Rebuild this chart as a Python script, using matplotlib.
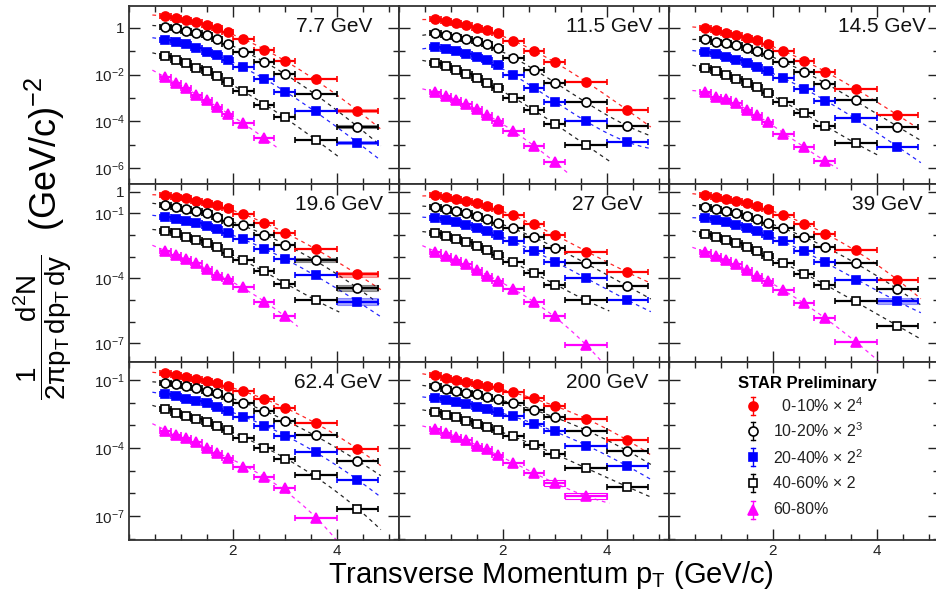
import numpy as np
import matplotlib
matplotlib.use('Agg')
import matplotlib.pyplot as plt
from matplotlib.patches import Rectangle
from matplotlib.ticker import FixedLocator, MultipleLocator, FixedFormatter, NullFormatter

plt.rcParams['font.family'] = ['Liberation Sans', 'DejaVu Sans']
plt.rcParams['mathtext.fontset'] = 'custom'
plt.rcParams['mathtext.rm'] = 'Liberation Sans'
plt.rcParams['mathtext.it'] = 'Liberation Sans:italic'
plt.rcParams['mathtext.bf'] = 'Liberation Sans:bold'
plt.rcParams['mathtext.default'] = 'regular'

# ---------------- data ----------------
pt_lo = [0.6, 0.8, 1.0, 1.2, 1.4, 1.6, 1.8, 2.0, 2.4, 2.8, 3.2, 4.0]
pt_hi = [0.8, 1.0, 1.2, 1.4, 1.6, 1.8, 2.0, 2.4, 2.8, 3.2, 4.0, 4.8]
pt_center = [0.7, 0.9, 1.1, 1.3, 1.5, 1.7, 1.9, 2.2, 2.6, 3.0, 3.6, 4.4]

energy_labels = ['7.7 GeV', '11.5 GeV', '14.5 GeV', '19.6 GeV', '27 GeV', '39 GeV',
                 '62.4 GeV', '200 GeV']
centrality_labels = ['  0-10% × 2$^{4}$', '10-20% × 2$^{3}$', '20-40% × 2$^{2}$',
                     '40-60% × 2', '60-80%']

# order in each: 0-10%x16, 10-20%x8, 20-40%x4, 40-60%x2, 60-80%
spec_7p7 = [
    [3.3, 2.6, 2.2, 1.76, 1.35, 1.03, 0.65, 0.33, 0.114, 0.038, 6.3e-3, 2.8e-4],
    [1.14, 0.97, 0.77, 0.63, 0.50, 0.33, 0.20, 0.096, 0.036, 0.0106, 1.43e-3, 5.8e-5],
    [0.31, 0.26, 0.20, 0.143, 0.096, 0.069, 0.042, 0.022, 6.5e-3, 1.74e-3, 2.7e-4, 1.2e-5],
    [0.063, 0.044, 0.030, 0.020, 0.0136, 8.3e-3, 4.6e-3, 1.9e-3, 5.0e-4, 1.55e-4, 1.55e-5],
    [7.7e-3, 4.5e-3, 2.6e-3, 1.33e-3, 8.1e-4, 4.2e-4, 2.0e-4, 8.7e-5, 1.9e-5],
]
spec_11p5 = [
    [2.4, 2.0, 1.64, 1.35, 1.05, 0.82, 0.61, 0.277, 0.103, 0.035, 4.8e-3, 3.0e-4],
    [0.61, 0.50, 0.41, 0.34, 0.277, 0.206, 0.139, 0.052, 0.0157, 4.4e-3, 6.7e-4, 6.2e-5],
    [0.153, 0.126, 0.103, 0.077, 0.057, 0.042, 0.0258, 9.6e-3, 2.66e-3, 6.7e-4, 1.02e-4, 1.28e-5],
    [0.0315, 0.0234, 0.0157, 0.0106, 7.1e-3, 4.35e-3, 2.66e-3, 9.9e-4, 3.0e-4, 7.6e-5, 9.5e-6],
    [1.8e-3, 1.2e-3, 8.1e-4, 5.5e-4, 3.3e-4, 1.85e-4, 1.02e-4, 3.8e-5, 8.6e-6, 1.77e-6],
]
spec_14p5 = [
    [1.05, 0.82, 0.64, 0.50, 0.39, 0.30, 0.21, 0.106, 0.040, 0.0133, 2.4e-3, 1.86e-4],
    [0.33, 0.26, 0.22, 0.186, 0.143, 0.106, 0.077, 0.034, 0.0133, 3.95e-3, 8.1e-4, 5.8e-5],
    [0.091, 0.074, 0.055, 0.042, 0.031, 0.022, 0.0147, 6.9e-3, 2.4e-3, 7.6e-4, 1.33e-4, 8.0e-6],
    [0.0198, 0.0143, 9.6e-3, 6.5e-3, 4.2e-3, 2.85e-3, 1.67e-3, 6.9e-4, 2.2e-4, 6.2e-5, 1.13e-5],
    [1.85e-3, 1.13e-3, 9.0e-4, 5.9e-4, 3.0e-4, 1.85e-4, 9.5e-5, 2.9e-5, 8.0e-6, 2.0e-6],
]
spec_19p6 = [
    [0.70, 0.59, 0.50, 0.385, 0.31, 0.243, 0.171, 0.094, 0.037, 0.0128, 2.2e-3, 1.54e-4],
    [0.243, 0.203, 0.154, 0.128, 0.101, 0.070, 0.046, 0.029, 0.0100, 3.5e-3, 7.0e-4, 3.5e-5],
    [0.070, 0.053, 0.046, 0.035, 0.026, 0.0184, 0.0120, 6.4e-3, 2.2e-3, 7.6e-4, 1.43e-4, 8.4e-6],
    [0.0158, 0.0120, 8.4e-3, 5.9e-3, 4.2e-3, 2.9e-3, 1.43e-3, 7.0e-4, 2.2e-4, 5.5e-5, 1.0e-5],
    [1.9e-3, 1.2e-3, 7.6e-4, 5.0e-4, 2.6e-4, 1.43e-4, 9.1e-5, 3.9e-5, 8.4e-6, 1.84e-6],
]
spec_27 = [
    [0.70, 0.57, 0.46, 0.37, 0.30, 0.219, 0.159, 0.084, 0.032, 0.0100, 1.65e-3, 1.97e-4],
    [0.197, 0.159, 0.129, 0.104, 0.076, 0.055, 0.036, 0.0211, 8.1e-3, 2.5e-3, 5.1e-4, 4.4e-5],
    [0.061, 0.049, 0.040, 0.029, 0.0211, 0.0153, 0.0100, 5.3e-3, 1.83e-3, 5.7e-4, 1.04e-4, 1.0e-5],
    [0.0124, 9.0e-3, 6.6e-3, 4.8e-3, 3.1e-3, 2.04e-3, 1.2e-3, 5.7e-4, 1.77e-4, 5.0e-5, 1.0e-5],
    [1.65e-3, 1.08e-3, 7.0e-4, 4.6e-4, 2.4e-4, 1.29e-4, 7.6e-5, 3.2e-5, 8.1e-6, 1.84e-6, 8.4e-8],
]
spec_39 = [
    [0.70, 0.57, 0.46, 0.37, 0.30, 0.219, 0.159, 0.084, 0.032, 0.0112, 2.04e-3, 8.4e-5],
    [0.197, 0.159, 0.129, 0.104, 0.076, 0.055, 0.036, 0.0211, 8.1e-3, 2.8e-3, 5.1e-4, 3.2e-5],
    [0.061, 0.049, 0.040, 0.029, 0.0211, 0.0153, 0.0100, 5.3e-3, 1.83e-3, 5.7e-4, 8.4e-5, 9.0e-6],
    [0.0112, 8.1e-3, 5.9e-3, 4.3e-3, 2.8e-3, 1.83e-3, 1.08e-3, 5.1e-4, 1.6e-4, 5.0e-5, 9.0e-6, 6.3e-7],
    [1.65e-3, 1.08e-3, 7.0e-4, 4.6e-4, 2.4e-4, 1.29e-4, 7.6e-5, 2.9e-5, 7.3e-6, 1.49e-6, 1.16e-7],
]
spec_62p4 = [
    [0.197, 0.166, 0.131, 0.107, 0.090, 0.076, 0.054, 0.033, 0.0140, 5.6e-3, 1.3e-3, 9.0e-5],
    [0.071, 0.064, 0.054, 0.043, 0.034, 0.0258, 0.0172, 0.0100, 4.3e-3, 1.6e-3, 3.7e-4, 2.7e-5],
    [0.0233, 0.0196, 0.0140, 0.0118, 9.4e-3, 6.6e-3, 4.4e-3, 2.4e-3, 9.6e-4, 3.5e-4, 6.9e-5, 3.9e-6],
    [5.1e-3, 3.6e-3, 2.6e-3, 1.9e-3, 1.36e-3, 9.6e-4, 6.2e-4, 2.8e-4, 9.7e-5, 3.2e-5, 6.5e-6, 2.0e-7],
    [5.8e-4, 3.7e-4, 2.7e-4, 1.9e-4, 9.7e-5, 5.8e-5, 3.7e-5, 1.5e-5, 5.1e-6, 1.66e-6, 7.9e-8],
]
spec_200 = [
    [0.166, 0.125, 0.098, 0.080, 0.066, 0.056, 0.047, 0.0286, 0.0155, 7.1e-3, 1.84e-3, 2.25e-4],
    [0.054, 0.039, 0.0326, 0.0274, 0.0233, 0.0183, 0.0145, 0.0100, 4.7e-3, 2.25e-3, 5.8e-4, 7.6e-5],
    [0.0155, 0.0131, 0.0104, 8.5e-3, 6.6e-3, 5.2e-3, 4.0e-3, 2.6e-3, 1.14e-3, 5.6e-4, 1.26e-4, 1.6e-5],
    [4.0e-3, 2.85e-3, 2.25e-3, 1.6e-3, 1.14e-3, 8.7e-4, 6.2e-4, 3.4e-4, 1.35e-4, 5.4e-5, 1.27e-5, 1.96e-6],
    [6.7e-4, 4.7e-4, 3.15e-4, 2.25e-4, 1.22e-4, 8.7e-5, 4.9e-5, 2.24e-5, 7.6e-6, 2.9e-6, 7.6e-7],
]
all_spectra = [spec_7p7, spec_11p5, spec_14p5, spec_19p6, spec_27, spec_39, spec_62p4, spec_200]

# systematic-uncertainty boxes: (panel, series, point, half height in decades, filled)
sys_boxes = [
    (0, 0, 11, 0.07, True), (0, 1, 11, 0.07, True), (0, 2, 11, 0.07, True),
    (3, 0, 11, 0.13, True), (3, 1, 10, 0.11, True), (3, 1, 11, 0.13, True),
    (3, 2, 11, 0.15, True), (5, 2, 11, 0.14, True),
    (7, 4, 9, 0.12, False), (7, 4, 10, 0.15, False),
]

# ---------------- style ----------------
colors = ['#ff0000', '#000000', '#0000ff', '#000000', '#ff00ff']
markers = ['o', 'o', 's', 's', '^']
filled = [True, False, True, False, True]
msizes = [6.5, 6.5, 6.0, 6.0, 7.0]

W, H = 937, 597
col_left = [129, 399, 669]
col_w = 270
row_top = [6, 184, 362]
row_h = 178
row_ylim_exp = [(-6.695, 0.944), (-7.858, 0.355), (-8.06, -0.207)]
row_major = [[0, -2, -4, -6], [0, -1, -4, -7], [-1, -4, -7]]

def exp_label(e):
    return '1' if e == 0 else r'$10^{%d}$' % e

fig = plt.figure(figsize=(W / 100, H / 100), dpi=100)
axes = []
for r in range(3):
    for c in range(3):
        ax = fig.add_axes([col_left[c] / W, 1 - (row_top[r] + row_h) / H, col_w / W, row_h / H])
        ax.set_yscale('log')
        lo, hi = row_ylim_exp[r]
        ax.set_ylim(10 ** lo, 10 ** hi)
        ax.set_xlim(0, 5.2)
        ax.yaxis.set_major_locator(FixedLocator([10.0 ** e for e in row_major[r]]))
        ax.yaxis.set_minor_locator(FixedLocator([10.0 ** e for e in range(-10, 3)]))
        ax.yaxis.set_minor_formatter(NullFormatter())
        if c == 0:
            ax.yaxis.set_major_formatter(FixedFormatter([exp_label(e) for e in row_major[r]]))
        else:
            ax.yaxis.set_major_formatter(NullFormatter())
        ax.xaxis.set_major_locator(FixedLocator([2, 4]))
        ax.xaxis.set_minor_locator(MultipleLocator(0.5))
        if r == 2:
            ax.xaxis.set_major_formatter(FixedFormatter(['2', '4']))
        else:
            ax.xaxis.set_major_formatter(NullFormatter())
        ax.tick_params(which='both', direction='in', top=True, right=True,
                       labelsize=11, colors='#222222', width=1.0)
        ax.tick_params(which='major', length=8, pad=3)
        ax.tick_params(which='minor', length=4)
        for s in ax.spines.values():
            s.set_linewidth(1.3)
            s.set_color('#333333')
        axes.append(ax)

label_x = [0.62, 0.62, 0.625, 0.615, 0.64, 0.678, 0.612, 0.62]

for i, spectra in enumerate(all_spectra):
    ax = axes[i]
    for k, ys in enumerate(spectra):
        n = len(ys)
        x = np.array(pt_center[:n])
        xl = x - np.array(pt_lo[:n])
        xh = np.array(pt_hi[:n]) - x
        y = np.array(ys)
        coef = np.polyfit(x, np.log10(y), 3)
        xf = np.linspace(0.45, pt_hi[n - 1] + 0.05, 200)
        ax.plot(xf, 10 ** np.polyval(coef, xf), ls=(0, (3, 3)), color=colors[k],
                lw=0.9, alpha=0.85, zorder=1)
        ax.errorbar(x, y, xerr=[xl, xh], fmt=markers[k], color=colors[k],
                    mfc=colors[k] if filled[k] else 'white', mec=colors[k],
                    mew=1.2, ms=msizes[k], elinewidth=1.6, capsize=2, capthick=1.2,
                    zorder=3)
    ax.text(label_x[i], 0.852, energy_labels[i], transform=ax.transAxes,
            ha='left', va='baseline', fontsize=15, color='#111111')

for (p, k, j, hh, fl) in sys_boxes:
    yv = all_spectra[p][k][j]
    rect = Rectangle((pt_lo[j], yv * 10 ** (-hh)), pt_hi[j] - pt_lo[j],
                     yv * (10 ** hh - 10 ** (-hh)),
                     facecolor=colors[k] if fl else 'none', alpha=0.35 if fl else 1.0,
                     edgecolor=colors[k], lw=0.8, zorder=2)
    axes[p].add_patch(rect)

# legend panel
lax = axes[8]
lax.text(0.511, 0.882, 'STAR Preliminary', transform=lax.transAxes, ha='center',
         va='center', fontsize=12, fontweight='bold')
leg_y = [0.754, 0.614, 0.465, 0.318, 0.169]
for k in range(5):
    yy = leg_y[k]
    lax.plot([0.311, 0.311], [yy - 0.05, yy + 0.05], color=colors[k], lw=1.0,
             transform=lax.transAxes)
    lax.plot([0.303, 0.319], [yy + 0.05, yy + 0.05], color=colors[k], lw=1.0,
             transform=lax.transAxes)
    lax.plot([0.303, 0.319], [yy - 0.05, yy - 0.05], color=colors[k], lw=1.0,
             transform=lax.transAxes)
    lax.plot([0.311], [yy], marker=markers[k], color=colors[k],
             mfc=colors[k] if filled[k] else 'white', mec=colors[k], mew=1.2,
             ms=msizes[k], transform=lax.transAxes, ls='none')
    lax.text(0.386, yy, centrality_labels[k], transform=lax.transAxes, ha='left',
             va='center', fontsize=11.5, color='#222222')

fig.text(551 / W, 1 - 583 / H, r'Transverse Momentum p$_{T}$ (GeV/c)', ha='center',
         va='baseline', fontsize=21)
fig.text(43 / W, 1 - 327 / H, r'$\dfrac{1\qquad d^{2}N}{2\pi p_{T}\,dp_{T}\,dy}$',
         rotation=90, ha='center', va='center', fontsize=20)
fig.text(45 / W, 1 - 154 / H, r'(GeV/c)$^{-2}$', rotation=90, ha='center', va='center',
         fontsize=26)

fig.savefig('out.png', dpi=100)
